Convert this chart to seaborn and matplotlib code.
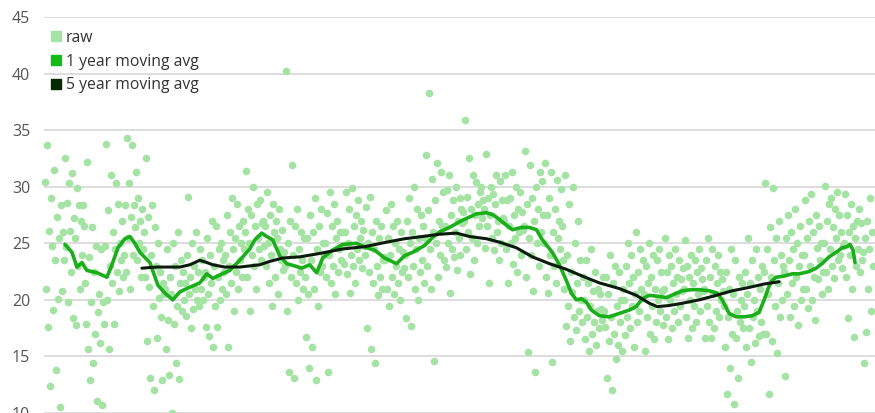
import numpy as np
import pandas as pd
import seaborn as sns
import matplotlib.pyplot as plt
from matplotlib.lines import Line2D

# Raw observations, 20 samples per year (one row per year)
raw_per_year = 20
raw_values = [
    30.4, 21.0, 33.7, 17.6, 26.1, 12.4, 29.0, 24.8, 19.1, 31.5, 23.5, 13.8, 27.3, 20.1, 25.5, 10.5, 28.4, 20.8, 26.0, 23.5,
    32.5, 24.7, 28.6, 19.8, 30.3, 26.1, 22.5, 31.2, 18.4, 27.2, 25.5, 17.8, 29.9, 23.0, 28.4, 21.0, 27.0, 24.0, 28.4, 26.5,
    21.5, 17.9, 32.2, 15.7, 23.8, 12.9, 19.8, 26.4, 14.4, 22.5, 17.0, 24.8, 11.1, 18.9, 20.5, 16.2, 24.5, 10.7, 19.8, 17.9,
    24.8, 33.8, 20.0, 27.9, 15.7, 23.0, 31.0, 21.5, 26.0, 17.9, 24.5, 30.3, 22.5, 28.5, 20.8, 25.0, 23.5, 27.0, 22.0, 24.0,
    28.4, 22.5, 34.3, 25.5, 30.3, 21.0, 27.3, 33.7, 24.0, 28.4, 26.4, 31.3, 23.5, 29.0, 25.0, 27.0, 22.0, 28.0, 24.5, 26.0,
    22.0, 32.5, 16.4, 27.3, 21.1, 13.1, 24.0, 28.4, 19.5, 12.0, 26.4, 23.0, 16.6, 25.0, 20.2, 22.5, 18.5, 12.9, 21.5, 20.5,
    21.0, 15.7, 24.5, 18.2, 13.4, 22.0, 20.5, 10.0, 25.0, 17.9, 23.0, 14.4, 19.5, 26.0, 13.0, 21.5, 23.5, 19.0, 22.5, 20.0,
    21.5, 18.6, 24.0, 29.1, 20.5, 22.0, 17.5, 25.0, 19.2, 23.0, 21.0, 26.0, 20.0, 22.5, 19.5, 24.5, 21.0, 23.5, 20.0, 22.0,
    22.5, 17.6, 25.5, 20.5, 16.8, 24.0, 21.5, 27.0, 15.8, 23.0, 19.5, 26.5, 17.6, 22.0, 24.5, 20.0, 25.0, 21.0, 23.5, 22.5,
    24.0, 20.5, 27.5, 15.8, 23.0, 26.0, 21.5, 29.0, 24.5, 19.0, 25.5, 22.5, 28.5, 21.0, 26.5, 23.5, 25.0, 22.0, 27.0, 24.5,
    26.0, 31.4, 22.0, 28.0, 25.0, 19.0, 27.5, 24.0, 30.0, 23.0, 26.5, 21.0, 28.5, 25.5, 24.5, 28.8, 23.5, 26.8, 27.0, 24.8,
    26.5, 23.0, 29.5, 25.0, 21.5, 27.5, 24.0, 19.5, 28.5, 26.0, 22.0, 27.0, 25.5, 20.5, 28.0, 24.5, 23.5, 26.2, 22.6, 24.2,
    23.0, 40.2, 19.0, 25.0, 13.6, 27.0, 22.0, 31.9, 24.0, 13.1, 26.5, 21.5, 28.0, 20.0, 24.5, 22.5, 26.0, 23.5, 21.0, 25.5,
    22.0, 16.7, 25.5, 20.5, 14.0, 27.5, 23.5, 15.8, 26.0, 21.0, 29.0, 12.9, 24.5, 19.5, 26.5, 22.5, 28.0, 23.0, 25.0, 24.0,
    25.0, 22.0, 27.7, 13.6, 24.0, 29.5, 21.5, 26.5, 23.0, 28.5, 20.5, 25.5, 27.0, 22.5, 24.5, 26.0, 23.5, 24.8, 26.0, 23.2,
    26.0, 29.5, 22.3, 25.0, 28.0, 20.6, 24.0, 29.9, 23.0, 26.5, 21.5, 27.5, 24.5, 28.8, 23.5, 25.5, 27.0, 22.8, 26.2, 24.8,
    24.0, 28.2, 17.5, 25.0, 22.5, 29.1, 15.7, 26.0, 21.5, 24.5, 14.4, 27.0, 23.0, 20.4, 25.5, 22.0, 26.5, 21.0, 23.5, 23.8,
    23.5, 27.9, 21.0, 25.5, 19.5, 24.0, 28.5, 22.0, 26.5, 20.5, 25.0, 23.0, 27.0, 21.5, 24.5, 20.0, 26.0, 22.5, 24.2, 22.8,
    24.0, 18.4, 27.0, 22.0, 29.0, 25.0, 17.7, 26.0, 23.0, 30.0, 21.0, 24.5, 28.0, 20.0, 25.5, 22.5, 27.5, 23.5, 26.5, 21.5,
    25.5, 32.8, 23.0, 27.9, 38.3, 24.5, 21.0, 30.7, 26.0, 14.6, 28.8, 25.0, 32.1, 22.0, 27.0, 24.0, 31.3, 26.5, 29.5, 23.5,
    26.5, 22.9, 29.7, 25.0, 31.0, 20.6, 27.5, 24.5, 28.8, 23.8, 26.0, 30.0, 22.6, 27.0, 25.5, 29.0, 24.0, 28.0, 26.8, 27.8,
    27.0, 35.9, 24.5, 29.1, 26.0, 32.5, 22.3, 28.0, 25.5, 31.0, 23.5, 27.5, 30.4, 25.0, 28.5, 26.5, 29.5, 30.0, 27.2, 28.8,
    28.0, 24.6, 32.9, 26.5, 29.0, 21.5, 27.5, 30.0, 25.5, 29.4, 24.4, 28.5, 31.0, 26.0, 27.0, 23.5, 30.5, 25.0, 28.8, 27.2,
    27.0, 31.0, 24.5, 28.8, 21.5, 26.5, 29.0, 25.0, 31.3, 23.2, 27.5, 25.5, 30.0, 22.5, 28.0, 26.0, 29.5, 24.0, 27.8, 26.2,
    26.5, 33.2, 22.0, 28.5, 15.4, 25.5, 31.9, 24.0, 29.0, 20.8, 27.0, 13.6, 30.0, 25.0, 28.0, 23.0, 31.3, 26.0, 30.5, 27.5,
    25.0, 32.1, 22.0, 27.5, 20.6, 29.0, 24.0, 31.3, 14.5, 26.0, 23.0, 28.0, 21.5, 30.6, 25.5, 27.0, 24.5, 29.8, 26.5, 23.5,
    21.0, 31.0, 17.7, 24.0, 19.5, 28.5, 16.4, 22.5, 20.7, 30.0, 18.5, 25.0, 17.3, 21.5, 27.0, 19.0, 23.5, 20.0, 18.0, 22.0,
    20.0, 16.5, 23.5, 18.5, 21.5, 15.5, 19.5, 24.5, 17.0, 20.8, 18.0, 22.5, 16.0, 19.0, 21.0, 17.5, 20.5, 19.2, 18.2, 22.0,
    19.0, 17.6, 22.0, 13.1, 20.5, 16.4, 24.0, 18.5, 12.0, 21.5, 17.0, 23.0, 14.8, 19.5, 16.0, 22.5, 18.0, 20.0, 15.5, 21.0,
    20.0, 16.9, 23.0, 18.5, 25.0, 21.5, 17.5, 24.0, 19.5, 22.0, 15.8, 20.5, 26.0, 18.0, 22.5, 19.0, 24.5, 21.0, 20.2, 23.5,
    20.5, 15.5, 23.0, 18.5, 21.5, 25.0, 17.0, 22.0, 19.5, 24.0, 16.5, 21.0, 18.0, 23.5, 20.0, 24.5, 19.0, 22.5, 20.8, 17.8,
    21.0, 25.5, 18.5, 22.5, 16.5, 24.0, 20.0, 23.0, 17.5, 21.5, 19.0, 24.5, 20.5, 22.0, 18.0, 23.5, 19.5, 21.8, 20.8, 22.8,
    21.0, 25.3, 18.5, 23.0, 16.6, 22.0, 20.0, 24.0, 17.5, 21.5, 19.5, 23.5, 18.0, 22.5, 20.5, 24.5, 19.0, 22.8, 21.8, 20.8,
    21.0, 16.6, 23.5, 19.5, 25.5, 18.0, 22.0, 16.6, 24.5, 20.5, 17.5, 23.0, 19.0, 21.5, 24.0, 18.5, 22.5, 20.0, 21.8, 20.8,
    19.5, 15.8, 22.5, 11.7, 18.5, 21.0, 14.0, 24.5, 17.0, 20.5, 10.8, 23.5, 16.6, 19.0, 13.1, 22.0, 18.0, 20.0, 21.5, 17.5,
    19.5, 22.5, 15.8, 20.5, 25.5, 17.5, 21.5, 14.5, 23.5, 18.5, 20.0, 16.2, 24.5, 19.0, 22.0, 16.8, 21.0, 18.0, 23.0, 17.0,
    22.5, 30.3, 17.0, 24.5, 20.5, 11.7, 26.4, 22.0, 16.4, 29.9, 23.5, 19.5, 25.5, 15.3, 21.5, 27.0, 18.5, 24.0, 20.0, 23.0,
    22.5, 13.3, 25.5, 20.5, 27.5, 23.5, 18.5, 26.0, 21.5, 24.5, 19.5, 28.0, 22.0, 25.0, 17.8, 23.0, 26.5, 20.0, 24.0, 21.0,
    24.0, 28.8, 21.0, 25.5, 19.3, 27.0, 23.0, 29.4, 20.0, 26.0, 22.0, 18.2, 27.5, 24.6, 21.8, 26.5, 23.5, 25.0, 20.5, 22.5,
    25.0, 30.1, 22.5, 27.0, 21.0, 28.5, 24.5, 29.0, 23.0, 26.4, 21.9, 28.0, 25.5, 29.5, 23.5, 27.5, 24.0, 26.0, 22.8, 24.8,
    25.0, 29.4, 22.0, 27.5, 18.4, 26.0, 24.0, 28.5, 21.0, 26.5, 16.7, 25.5, 23.0, 27.0, 24.5, 28.0, 22.5, 26.8, 23.5, 24.2,
    14.4, 25.5, 17.2, 27.0, 21.0, 24.5, 29.0, 19.0, 26.0, 23.0,
]

# 1 year moving average (time in years, value)
one_year_t = [1.0, 1.35, 1.6, 1.85, 2.1, 2.6, 3.1, 3.35, 3.65, 4.0, 4.25, 4.5, 4.75, 5.25, 5.65,
              6.0, 6.4, 6.75, 7.1, 7.75, 8.1, 8.4, 8.75, 9.25, 9.75, 10.25, 10.5, 10.85, 11.1, 11.4,
              11.75, 12.1, 12.5, 12.85, 13.25, 13.6, 13.9, 14.4, 14.9, 15.6, 16.1, 16.5, 17.0, 17.6, 18.0,
              18.4, 19.0, 19.4, 19.75, 20.25, 20.75, 21.1, 21.6, 22.1, 22.45, 22.75, 23.1, 23.4, 23.85, 24.25,
              24.6, 24.9, 25.4, 25.75, 26.1, 26.35, 26.6, 26.85, 27.1, 27.35, 27.75, 28.25, 28.75, 29.25, 29.6,
              29.9, 30.25, 30.75, 31.1, 31.5, 31.9, 32.35, 32.75, 33.25, 33.65, 33.9, 34.25, 34.6, 35.0, 35.4,
              35.75, 36.0, 36.2, 36.35, 36.6, 37.0, 37.4, 37.75, 38.25, 38.6, 38.9, 39.25, 39.6, 39.9, 40.15,
              40.3, 40.45, 40.55]
one_year_v = [24.9, 24.2, 22.9, 23.3, 22.6, 22.4, 22.0, 23.1, 24.6, 25.4, 25.6, 25.0, 24.2, 23.3, 21.3,
              20.6, 20.0, 20.7, 21.0, 21.5, 22.3, 21.9, 22.2, 22.6, 23.5, 24.5, 25.3, 25.9, 25.6, 25.3,
              23.9, 23.2, 23.0, 22.8, 23.1, 22.4, 23.7, 24.4, 24.9, 25.0, 24.6, 24.4, 23.7, 23.2, 23.9,
              24.2, 24.8, 25.5, 26.0, 26.4, 26.9, 27.2, 27.6, 27.7, 27.5, 27.1, 26.6, 26.2, 26.4, 26.4,
              26.2, 25.3, 24.2, 23.1, 21.7, 20.6, 20.0, 20.1, 19.8, 19.1, 18.6, 18.5, 18.8, 19.1, 19.4,
              20.1, 20.4, 20.3, 20.2, 20.5, 20.8, 20.9, 20.9, 20.8, 20.6, 20.0, 18.8, 18.5, 18.5, 18.6,
              18.9, 20.0, 21.0, 21.6, 22.0, 22.1, 22.3, 22.3, 22.5, 22.8, 23.2, 23.8, 24.2, 24.6, 24.7,
              24.9, 24.4, 23.3]

# 5 year moving average (time in years, value)
five_year_t = [4.85, 5.6, 6.25, 6.75, 7.25, 7.75, 8.1, 8.4, 9.0, 9.75, 10.25, 10.75, 11.25, 11.9, 12.75,
               13.75, 14.9, 16.0, 17.1, 18.0, 18.9, 19.75, 20.6, 21.25, 22.1, 22.75, 23.6, 24.4, 25.25, 26.1,
               26.9, 27.75, 28.75, 29.6, 30.25, 30.65, 31.25, 31.9, 32.75, 33.6, 34.4, 35.25, 36.0, 36.75]
five_year_v = [22.8, 22.9, 22.9, 22.9, 23.1, 23.5, 23.3, 23.1, 22.9, 22.9, 23.0, 23.1, 23.4, 23.7, 23.8,
               24.1, 24.5, 24.7, 25.1, 25.4, 25.6, 25.8, 25.9, 25.6, 25.4, 25.1, 24.6, 23.8, 23.2, 22.7,
               22.1, 21.5, 21.0, 20.4, 19.7, 19.4, 19.5, 19.7, 20.0, 20.4, 20.8, 21.1, 21.4, 21.6]

y_ticks = [10, 15, 20, 25, 30, 35, 40, 45]
legend_labels = ["raw", "1 year moving avg", "5 year moving avg"]

raw_color = "#a5e3a5"
one_year_color = "#1aae1a"
five_year_color = "#0c1c0c"
legend_colors = ["#a5e3a5", "#14bb14", "#032a03"]

raw_df = pd.DataFrame({"t": np.arange(len(raw_values)) / raw_per_year, "value": raw_values})
one_df = pd.DataFrame({"t": one_year_t, "value": one_year_v})
five_df = pd.DataFrame({"t": five_year_t, "value": five_year_v})

sns.set_theme(style="white")
plt.rcParams["font.family"] = ["Open Sans", "DejaVu Sans"]

fig = plt.figure(figsize=(8.75, 4.13), dpi=100)
ax = fig.add_axes([44 / 875, 0.0, 831 / 875, 396 / 413])

sns.scatterplot(data=raw_df, x="t", y="value", ax=ax, color=raw_color, s=30,
                linewidth=0, alpha=1.0, zorder=2, clip_on=False)
sns.lineplot(data=one_df, x="t", y="value", ax=ax, color=one_year_color, linewidth=2.6,
             sort=False, estimator=None, zorder=3)
sns.lineplot(data=five_df, x="t", y="value", ax=ax, color=five_year_color, linewidth=2.2,
             sort=False, estimator=None, zorder=4)

ax.set_xlim(-0.05, 41.55)
ax.set_ylim(10, 45)
ax.set_yticks(y_ticks)
ax.set_yticklabels([str(v) for v in y_ticks])
ax.set_xticks([])
ax.set_xlabel("")
ax.set_ylabel("")
ax.grid(axis="y", color="#dadada", linewidth=1.3)
ax.set_axisbelow(True)
for side in ["top", "right", "bottom", "left"]:
    ax.spines[side].set_visible(False)
ax.tick_params(axis="y", length=0, pad=10, labelsize=11.5, labelcolor="#555555")

handles = [Line2D([0], [0], marker="s", linestyle="none", markersize=6.5,
                  markerfacecolor=c, markeredgecolor=c) for c in legend_colors]
ax.legend(handles, legend_labels, loc="upper left", bbox_to_anchor=(0.0084, 0.968),
          frameon=False, handlelength=0.7, handletextpad=0.25, labelspacing=0.5,
          borderaxespad=0, borderpad=0, fontsize=11.3, labelcolor="#333333")

fig.savefig("out.png", dpi=100)
